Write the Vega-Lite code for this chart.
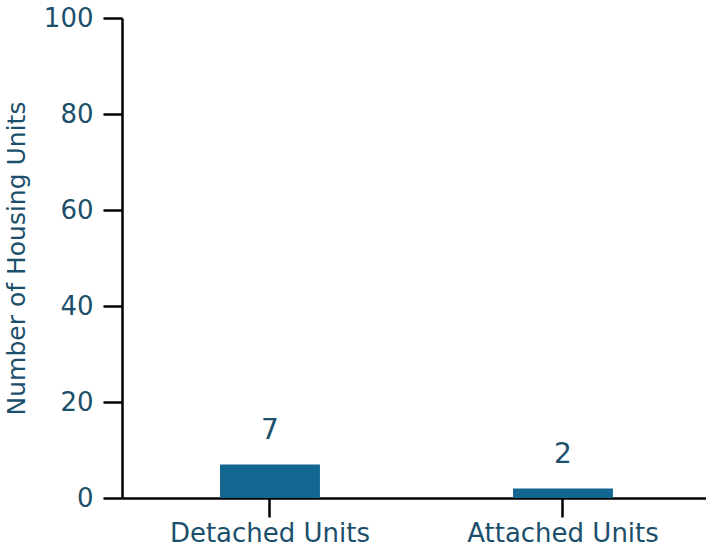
{
  "$schema": "https://vega.github.io/schema/vega-lite/v6.json",
  "width": 706,
  "height": 548,
  "autosize": {"type": "fit", "contains": "padding"},
  "padding": {"left": 4, "top": 5, "right": 0, "bottom": 2},
  "background": "white",
  "config": {
    "view": {"stroke": null},
    "font": "DejaVu Sans",
    "axis": {
      "grid": false,
      "domainColor": "black",
      "domainWidth": 2.5,
      "tickColor": "black",
      "tickWidth": 2.5,
      "tickSize": 19,
      "labelFont": "DejaVu Sans",
      "labelFontSize": 26,
      "labelLimit": 0,
      "labelColor": "#1b4f6b",
      "titleFont": "DejaVu Sans",
      "titleFontSize": 25,
      "titleFontWeight": "normal",
      "titleColor": "#1b4f6b"
    }
  },
  "data": {
    "values": [
      {"type": "Detached Units", "units": 7},
      {"type": "Attached Units", "units": 2}
    ]
  },
  "encoding": {
    "x": {
      "field": "type",
      "type": "nominal",
      "sort": null,
      "scale": {"paddingInner": 0.659, "paddingOuter": 0.326, "align": 0.513},
      "axis": {"title": null, "labelAngle": 0, "labelPadding": 3}
    },
    "y": {
      "field": "units",
      "type": "quantitative",
      "scale": {"domain": [0, 100]},
      "axis": {"title": "Number of Housing Units", "values": [0, 20, 40, 60, 80, 100], "labelPadding": 10, "titlePadding": 14}
    }
  },
  "layer": [
    {"mark": {"type": "bar", "color": "#136690"}},
    {
      "mark": {"type": "text", "baseline": "bottom", "dy": -19, "fontSize": 28, "color": "#1b4f6b", "font": "DejaVu Sans"},
      "encoding": {"text": {"field": "units", "type": "quantitative"}}
    }
  ]
}
